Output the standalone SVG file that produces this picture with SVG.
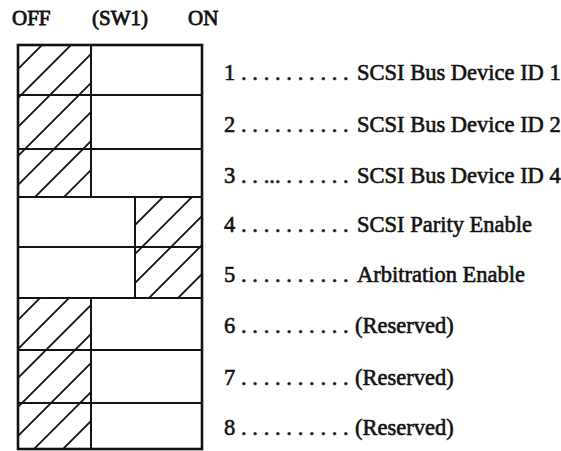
<svg xmlns="http://www.w3.org/2000/svg" width="561" height="451" viewBox="0 0 561 451">
<style>
text{font-family:"Liberation Serif","Times New Roman",serif;fill:#111;stroke:#111;stroke-width:0.6}
.hdr{font-size:21px;stroke-width:0.8}
.lbl{font-size:22.5px}
.dots{letter-spacing:0.05px}
.cell{fill:none;stroke:#111;stroke-width:1.8}
.hatch{stroke:#111;stroke-width:1.8;fill:none}
.outer{fill:none;stroke:#111;stroke-width:2.6}
</style>
<defs>
<pattern id="hA" patternUnits="userSpaceOnUse" width="29" height="29">
<path class="hatch" d="M0,29 L29,0 M-3,3 L3,-3 M26,32 L32,26"/>
</pattern>
<pattern id="hB" patternUnits="userSpaceOnUse" x="12" width="29" height="29">
<path class="hatch" d="M0,29 L29,0 M-3,3 L3,-3 M26,32 L32,26"/>
</pattern>
<pattern id="hC" patternUnits="userSpaceOnUse" x="19" width="29" height="29">
<path class="hatch" d="M0,29 L29,0 M-3,3 L3,-3 M26,32 L32,26"/>
</pattern>
</defs>
<rect width="561" height="451" fill="#fff"/>
<g id="header">
<text class="hdr" x="12" y="25">OFF</text>
<text class="hdr" x="92" y="25">(SW1)</text>
<text class="hdr" x="188" y="25">ON</text>
</g>
<g id="sw1">
<rect x="18" y="45" width="73" height="50" fill="url(#hA)"/>
<rect class="cell" x="18" y="45" width="73" height="50"/>
<rect class="cell" x="91" y="45" width="111" height="50"/>
<text class="lbl dots" x="224" y="80">1 . . . . . . . . . .</text>
<text class="lbl" x="357" y="80">SCSI Bus Device ID 1</text>
</g>
<g id="sw2">
<rect x="18" y="95" width="73" height="54" fill="url(#hA)"/>
<rect class="cell" x="18" y="95" width="73" height="54"/>
<rect class="cell" x="91" y="95" width="111" height="54"/>
<text class="lbl dots" x="224" y="132">2 . . . . . . . . . .</text>
<text class="lbl" x="357" y="132">SCSI Bus Device ID 2</text>
</g>
<g id="sw3">
<rect x="18" y="149" width="73" height="48" fill="url(#hA)"/>
<rect class="cell" x="18" y="149" width="73" height="48"/>
<rect class="cell" x="91" y="149" width="111" height="48"/>
<text class="lbl dots" x="224" y="183">3 . . ... . . . . . .</text>
<text class="lbl" x="357" y="183">SCSI Bus Device ID 4</text>
</g>
<g id="sw4">
<rect x="135" y="197" width="67" height="50" fill="url(#hB)"/>
<rect class="cell" x="18" y="197" width="117" height="50"/>
<rect class="cell" x="135" y="197" width="67" height="50"/>
<text class="lbl dots" x="224" y="232">4 . . . . . . . . . .</text>
<text class="lbl" x="357" y="232">SCSI Parity Enable</text>
</g>
<g id="sw5">
<rect x="135" y="247" width="67" height="51" fill="url(#hB)"/>
<rect class="cell" x="18" y="247" width="117" height="51"/>
<rect class="cell" x="135" y="247" width="67" height="51"/>
<text class="lbl dots" x="224" y="282">5 . . . . . . . . . .</text>
<text class="lbl" x="357" y="282">Arbitration Enable</text>
</g>
<g id="sw6">
<rect x="18" y="298" width="73" height="52" fill="url(#hC)"/>
<rect class="cell" x="18" y="298" width="73" height="52"/>
<rect class="cell" x="91" y="298" width="111" height="52"/>
<text class="lbl dots" x="224" y="333">6 . . . . . . . . . .</text>
<text class="lbl" x="355" y="333">(Reserved)</text>
</g>
<g id="sw7">
<rect x="18" y="350" width="73" height="53" fill="url(#hC)"/>
<rect class="cell" x="18" y="350" width="73" height="53"/>
<rect class="cell" x="91" y="350" width="111" height="53"/>
<text class="lbl dots" x="224" y="385">7 . . . . . . . . . .</text>
<text class="lbl" x="355" y="385">(Reserved)</text>
</g>
<g id="sw8">
<rect x="18" y="403" width="73" height="46" fill="url(#hC)"/>
<rect class="cell" x="18" y="403" width="73" height="46"/>
<rect class="cell" x="91" y="403" width="111" height="46"/>
<text class="lbl dots" x="224" y="435">8 . . . . . . . . . .</text>
<text class="lbl" x="355" y="435">(Reserved)</text>
</g>
<g id="connectors"></g>
<rect class="outer" x="18" y="45" width="184" height="404"/>
</svg>
